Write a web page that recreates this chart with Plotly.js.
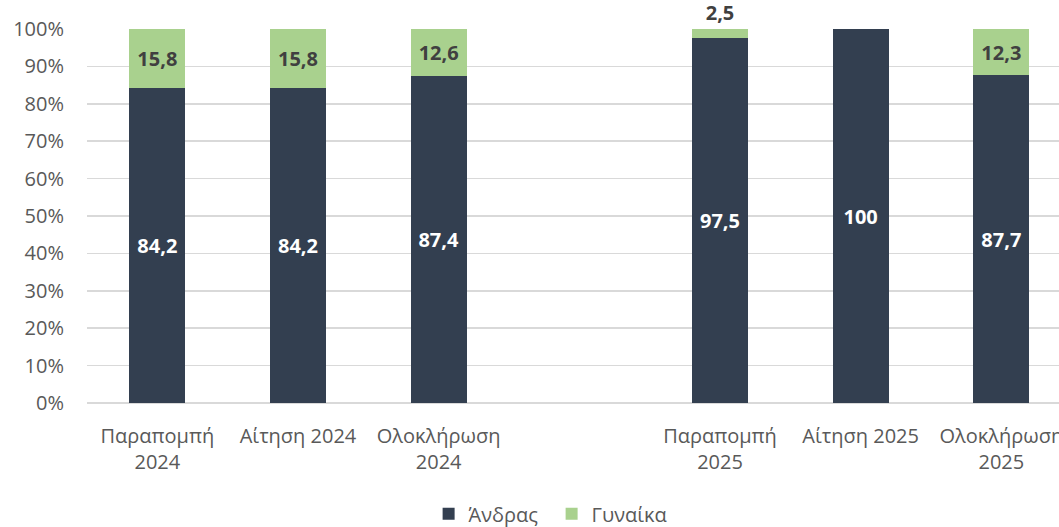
<!DOCTYPE html>
<html>
<head>
<meta charset="utf-8">
<script src="https://cdn.plot.ly/plotly-3.0.1.min.js"></script>
<style>html,body{margin:0;padding:0;background:#fff;}#chart{width:1059px;height:527px;}</style>
</head>
<body>
<div id="chart"></div>
<script>
const categories = ["Παραπομπή<br>2024", "Αίτηση 2024", "Ολοκλήρωση<br>2024", " ", "Παραπομπή<br>2025", "Αίτηση 2025", "Ολοκλήρωση<br>2025"];
const men = [84.2, 84.2, 87.4, null, 97.5, 100, 87.7];
const women = [15.8, 15.8, 12.6, null, 2.5, 0, 12.3];
const menLabels = ["84,2", "84,2", "87,4", "", "97,5", "100", "87,7"];
const womenLabels = ["15,8", "15,8", "12,6", "", "2,5", "", "12,3"];
const yTicks = [0, 10, 20, 30, 40, 50, 60, 70, 80, 90, 100];
const yTickLabels = ["0%", "10%", "20%", "30%", "40%", "50%", "60%", "70%", "80%", "90%", "100%"];

const font = "'Open Sans', 'DejaVu Sans', sans-serif";

const data = [
  {
    type: 'bar', name: 'Άνδρας', x: categories, y: men,
    marker: {color: '#333F50'},
    text: menLabels, texttemplate: '%{text}', textposition: 'inside',
    insidetextanchor: 'middle', textangle: 0,
    textfont: {family: font, size: 20, color: '#ffffff', weight: 'bold'},
    hoverinfo: 'skip', width: 0.4
  },
  {
    type: 'bar', name: 'Γυναίκα', x: categories, y: women,
    marker: {color: '#A9D18E'},
    text: womenLabels, texttemplate: '%{text}',
    textposition: ['inside', 'inside', 'inside', 'inside', 'outside', 'inside', 'inside'],
    insidetextanchor: 'middle', textangle: 0,
    textfont: {family: font, size: 20, color: '#404040', weight: 'bold'},
    cliponaxis: false, hoverinfo: 'skip', width: 0.4
  }
];

const layout = {
  width: 1059, height: 527,
  margin: {l: 87, r: 0, t: 29, b: 124, autoexpand: false},
  paper_bgcolor: '#ffffff', plot_bgcolor: '#ffffff',
  barmode: 'stack',
  font: {family: font, size: 20, color: '#595959'},
  xaxis: {
    type: 'category', range: [-0.5, 6.41],
    showgrid: false, showline: false, zeroline: false,
    tickfont: {family: font, size: 20, color: '#595959'},
    ticks: '', ticklabelstandoff: 19, fixedrange: true
  },
  yaxis: {
    range: [0, 100], tickmode: 'array', tickvals: yTicks, ticktext: yTickLabels,
    showgrid: true, gridcolor: '#d9d9d9', gridwidth: 1.5,
    zeroline: true, zerolinecolor: '#d9d9d9', zerolinewidth: 1.5,
    showline: false, ticks: '', ticklabelstandoff: 22,
    tickfont: {family: font, size: 20, color: '#595959'}, fixedrange: true
  },
  showlegend: true,
  legend: {
    orientation: 'h', xref: 'paper', x: 0.478, xanchor: 'center',
    yref: 'container', y: 0.025, yanchor: 'middle',
    traceorder: 'normal', font: {family: font, size: 20, color: '#595959'},
    itemwidth: 30, entrywidth: 78, entrywidthmode: 'pixels'
  }
};

Plotly.newPlot('chart', data, layout, {displayModeBar: false, staticPlot: true});
</script>
</body>
</html>
